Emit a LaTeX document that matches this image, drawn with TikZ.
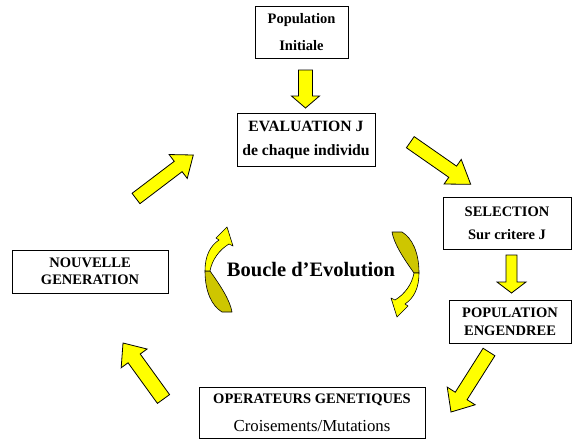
\documentclass[tikz,border=0pt]{standalone}
\usepackage{fontspec}
\setmainfont{Liberation Serif}
\usetikzlibrary{calc}

\definecolor{arrowyellow}{RGB}{255,255,0}
\definecolor{loopdark}{RGB}{206,198,0}

% Block arrow: #1 tail, #2 tip, #3 shaft half width, #4 head half width, #5 head length
\newcommand\blockarrow[5]{%
  \coordinate (ba-h) at ($(#2)!#5!(#1)$);
  \draw[fatarrow]
    ($(#1)!#3!90:(#2)$) -- ($(ba-h)!#3!-90:(#1)$) -- ($(ba-h)!#4!-90:(#1)$)
    -- (#2)
    -- ($(ba-h)!#4!90:(#1)$) -- ($(ba-h)!#3!90:(#1)$) -- ($(#1)!#3!-90:(#2)$) -- cycle;
}

% Curled ribbon arrow, head pointing up, tail at the bottom
\newcommand\curlarrow{%
  \draw[loopline, fill=loopdark]
    (205,271) .. controls (205,292) and (212,306) .. (222,312)
    -- (232,312) .. controls (230,300) and (220,285) .. (210,271) -- cycle;
  \draw[loopline, fill=arrowyellow]
    (205,271) .. controls (205,256) and (210,246) .. (219,240)
    -- (216,238) -- (227,227) -- (233,246) -- (229,244)
    .. controls (219,250) and (212,260) .. (210,271) -- cycle;
}

\begin{document}
\begin{tikzpicture}[x=1pt,y=-1pt,
  box/.style={draw, line width=0.8pt, inner sep=0pt, align=center,
    font=\bfseries\fontsize{14.5}{#1}\selectfont},
  fatarrow/.style={draw=black, line width=0.8pt, fill=arrowyellow, line join=miter},
  loopline/.style={draw=black, line width=0.6pt, line join=round}]
  \useasboundingbox (0,0) rectangle (572,439);
  \fill[white] (0,0) rectangle (572,439);

  % Boxes of the cycle
  \node[box=27, minimum width=93pt, minimum height=52pt] (init) at (301.5,32) {Population\\Initiale};
  \node[box=24, font=\bfseries\fontsize{15.7}{24}\selectfont, minimum width=138pt, minimum height=53pt] (eval) at (306,139.5) {EVALUATION J\\de chaque individu};
  \node[box=23, minimum width=128pt, minimum height=52pt] (sel) at (507,223) {SELECTION\\Sur critere J};
  \node[box=18, minimum width=122pt, minimum height=43pt] (peng) at (510,321.5) {POPULATION\\ENGENDREE};
  \node[box=28, minimum width=226pt, minimum height=51pt] (oper) at (312,412.5) {OPERATEURS GENETIQUES\\\mdseries\fontsize{16.8}{28}\selectfont Croisements/Mutations};
  \node[box=17, minimum width=156pt, minimum height=43pt] (nouv) at (90,271.5) {NOUVELLE\\GENERATION};

  \node[font=\bfseries\fontsize{20.5}{24}\selectfont] (loop) at (311,270) {Boucle d’Evolution};

  % Arrow ends
  \coordinate (init-out) at (305.5,70);  \coordinate (eval-in) at (305.5,108);
  \coordinate (eval-out) at (410.3,142.2); \coordinate (sel-in) at (470.7,184.3);
  \coordinate (sel-out) at (511.5,255);  \coordinate (peng-in) at (511.5,293);
  \coordinate (peng-out) at (489,352);   \coordinate (oper-in) at (451,412);
  \coordinate (oper-out) at (163.5,399); \coordinate (nouv-in) at (123,343);
  \coordinate (nouv-out) at (136,198.5); \coordinate (eval-back) at (193.3,155);

  \blockarrow{init-out}{eval-in}{7pt}{14pt}{12pt}
  \blockarrow{eval-out}{sel-in}{6.8pt}{15pt}{22pt}
  \blockarrow{sel-out}{peng-in}{5.5pt}{14.5pt}{11pt}
  \blockarrow{peng-out}{oper-in}{7pt}{16.5pt}{19pt}
  \blockarrow{oper-out}{nouv-in}{7.5pt}{16pt}{19pt}
  \blockarrow{nouv-out}{eval-back}{6.5pt}{15pt}{19pt}

  % The two curled arrows around the loop label
  \curlarrow
  \begin{scope}[rotate around={180:(312,272)}]
    \curlarrow
  \end{scope}
\end{tikzpicture}
\end{document}
